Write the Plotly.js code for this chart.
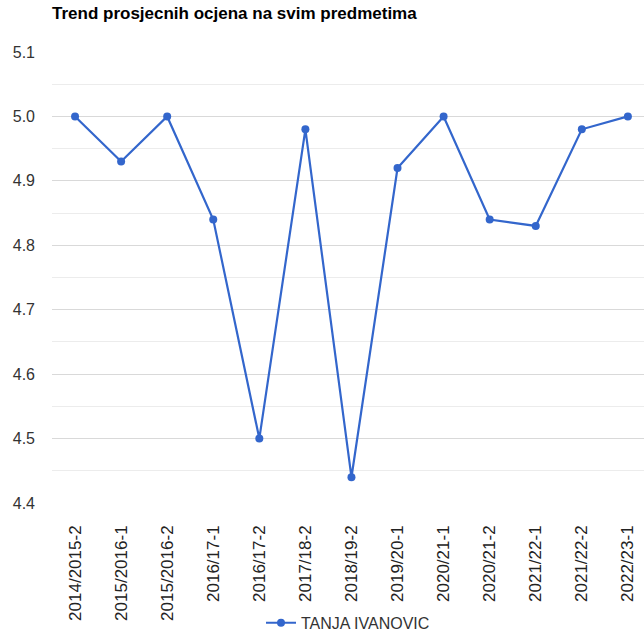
<!DOCTYPE html>
<html>
<head>
<meta charset="utf-8">
<script src="https://cdn.plot.ly/plotly-3.0.1.min.js"></script>
<style>
html,body{margin:0;padding:0;background:#fff;overflow:hidden;}
#chart{width:644px;height:633px;}
</style>
</head>
<body>
<div id="chart"></div>
<script>
const categories = ["2014/2015-2","2015/2016-1","2015/2016-2","2016/17-1","2016/17-2","2017/18-2","2018/19-2","2019/20-1","2020/21-1","2020/21-2","2021/22-1","2021/22-2","2022/23-1"];
const values = [5.0, 4.93, 5.0, 4.84, 4.5, 4.98, 4.44, 4.92, 5.0, 4.84, 4.83, 4.98, 5.0];
const seriesName = "TANJA IVANOVIC";
const chartTitle = "Trend prosjecnih ocjena na svim predmetima";

const trace = {
  x: categories,
  y: values,
  type: 'scatter',
  mode: 'lines+markers',
  name: seriesName,
  line: {color: '#3366cc', width: 2.2},
  marker: {color: '#3366cc', size: 8},
  showlegend: true
};

const layout = {
  width: 644,
  height: 633,
  margin: {l: 52, r: 0, t: 52, b: 130},
  paper_bgcolor: '#fff',
  plot_bgcolor: '#fff',
  font: {family: 'Liberation Sans, Arial, sans-serif', size: 16, color: '#222'},
  title: {
    text: chartTitle,
    font: {family: 'Liberation Sans, Arial, sans-serif', size: 17, color: '#000', weight: 'bold'},
    x: 0, xref: 'paper', xanchor: 'left',
    y: 1, yref: 'container', yanchor: 'top', pad: {t: 7}
  },
  xaxis: {
    type: 'category',
    range: [-0.5, 12.35],
    showgrid: false,
    zeroline: false,
    showline: false,
    tickangle: -90,
    ticklabelstandoff: 18,
    tickfont: {size: 17, color: '#222'}
  },
  yaxis: {
    range: [4.4, 5.1],
    dtick: 0.1,
    tick0: 4.4,
    tickformat: '.1f',
    showgrid: true,
    gridcolor: '#d9d9d9',
    gridwidth: 1,
    zeroline: false,
    showline: false,
    ticklabelstandoff: 16,
    tickfont: {size: 16, color: '#333'},
    minor: {dtick: 0.05, tick0: 4.4, showgrid: true, gridcolor: '#ececec', gridwidth: 1}
  },
  showlegend: true,
  legend: {
    orientation: 'h',
    x: 0.5, xanchor: 'center',
    y: 0.016, yref: 'container', yanchor: 'middle',
    font: {size: 16, color: '#333'},
    bgcolor: 'rgba(0,0,0,0)'
  }
};

Plotly.newPlot('chart', [trace], layout, {displayModeBar: false, staticPlot: true});
</script>
</body>
</html>
